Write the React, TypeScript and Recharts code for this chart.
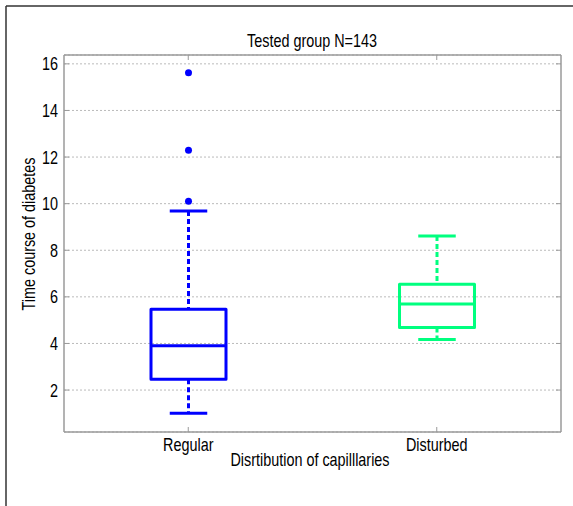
import React from 'react';
import { ComposedChart, Bar, XAxis, YAxis, CartesianGrid } from 'recharts';

// box statistics
const categories = ['Regular', 'Disturbed'];
const lowerWhisker = [1.0, 4.17];
const lowerQuartile = [2.46, 4.69];
const medians = [3.9, 5.69];
const upperQuartile = [5.47, 6.54];
const upperWhisker = [9.69, 8.61];
const outliers = [[10.1, 12.29, 15.62], []];
const boxColors = ['#0000ff', '#00ff7f'];
const yTicks = [2, 4, 6, 8, 10, 12, 14, 16];
const yDomain = [0.2, 16.38];

const FONT = "'Liberation Sans', Arial, sans-serif";
const AXIS_GRAY = '#9a9a9a';

const data = categories.map((name, i) => ({
  name,
  box: [lowerQuartile[i], upperQuartile[i]],
  q1: lowerQuartile[i],
  q3: upperQuartile[i],
  med: medians[i],
  lo: lowerWhisker[i],
  hi: upperWhisker[i],
  out: outliers[i],
  color: boxColors[i],
}));

// condensed look: regular sans squeezed horizontally
const Narrow = ({ x, y, anchor = 'middle', dy, rotate = 0, children }: any) => (
  <g transform={`translate(${x} ${y}) rotate(${rotate}) scale(0.8 1)`}>
    <text x={0} y={0} dy={dy} textAnchor={anchor} fontSize={18} fill="#000" fontFamily={FONT}>
      {children}
    </text>
  </g>
);

// the bar gives the q1..q3 pixels, everything else is scaled from it
const BoxShape = (props: any) => {
  const { x, y, width, height, payload } = props;
  const top = Math.min(y, y + height);
  const h = Math.abs(height);
  const k = h / (payload.q3 - payload.q1);
  const py = (v: number) => top + (payload.q3 - v) * k;
  const cx = x + width / 2;
  const cap = width / 4;
  const c = payload.color;
  return (
    <g stroke={c} strokeWidth={3} fill="none" strokeLinejoin="round">
      <line x1={cx} x2={cx} y1={py(payload.hi)} y2={top} strokeDasharray="5 3" />
      <line x1={cx} x2={cx} y1={top + h} y2={py(payload.lo)} strokeDasharray="5 3" />
      <line x1={cx - cap} x2={cx + cap} y1={py(payload.hi)} y2={py(payload.hi)} />
      <line x1={cx - cap} x2={cx + cap} y1={py(payload.lo)} y2={py(payload.lo)} />
      <rect x={x} y={top} width={width} height={h} />
      <line x1={x} x2={x + width} y1={py(payload.med)} y2={py(payload.med)} />
      {payload.out.map((v: number, i: number) => (
        <circle key={i} cx={cx} cy={py(v)} r={3.5} fill={c} stroke="none" />
      ))}
    </g>
  );
};

const LeftTick = ({ x, y, payload }: any) => (
  <g>
    <line x1={x + 6} x2={x + 11} y1={y} y2={y} stroke={AXIS_GRAY} />
    <Narrow x={x} y={y} dy="0.36em" anchor="end">{payload.value}</Narrow>
  </g>
);

const RightTick = ({ x, y }: any) => <line x1={x} x2={x - 5} y1={y} y2={y} stroke={AXIS_GRAY} />;

const BottomTick = ({ x, y, payload }: any) => (
  <g>
    <line x1={x} x2={x} y1={y - 6} y2={y - 11} stroke={AXIS_GRAY} />
    <Narrow x={x} y={y} dy="0.72em">{payload.value}</Narrow>
  </g>
);

const TopTick = ({ x, y }: any) => <line x1={x} x2={x} y1={y} y2={y + 5} stroke={AXIS_GRAY} />;

const axisLine = { stroke: AXIS_GRAY, strokeWidth: 1.5 };

export default function App() {
  return (
    <div style={{ position: 'absolute', left: 0, top: 0, width: 573, height: 506, background: '#fff' }}>
      <ComposedChart
        width={573}
        height={506}
        data={data}
        margin={{ top: 45, right: 6, bottom: 34, left: 10 }}
      >
        <CartesianGrid
          xAxisId="b"
          yAxisId="l"
          vertical={false}
          stroke="#bbbbbb"
          strokeDasharray="2 2"
        />
        <XAxis
          xAxisId="b"
          dataKey="name"
          height={40}
          axisLine={axisLine}
          tickLine={false}
          tickSize={0}
          tickMargin={6}
          tick={<BottomTick />}
        />
        <XAxis
          xAxisId="t"
          dataKey="name"
          orientation="top"
          height={10}
          axisLine={axisLine}
          tickLine={false}
          tickSize={0}
          tickMargin={0}
          tick={<TopTick />}
        />
        <YAxis
          yAxisId="l"
          type="number"
          domain={yDomain}
          ticks={yTicks}
          allowDataOverflow
          width={54}
          axisLine={axisLine}
          tickLine={false}
          tickSize={0}
          tickMargin={6}
          tick={<LeftTick />}
        />
        <YAxis
          yAxisId="r"
          orientation="right"
          type="number"
          domain={yDomain}
          ticks={yTicks}
          allowDataOverflow
          width={6}
          axisLine={axisLine}
          tickLine={false}
          tickSize={0}
          tickMargin={0}
          tick={<RightTick />}
        />
        <Bar
          xAxisId="b"
          yAxisId="l"
          dataKey="box"
          barSize={75}
          shape={<BoxShape />}
          isAnimationActive={false}
        />
      </ComposedChart>
      <svg
        width={573}
        height={506}
        style={{ position: 'absolute', left: 0, top: 0, pointerEvents: 'none' }}
      >
        <line x1={6} x2={573} y1={6} y2={6} stroke="#333" strokeWidth={1.5} />
        <line x1={6} x2={6} y1={6} y2={506} stroke="#333" strokeWidth={1.5} />
        <Narrow x={312} y={47}>Tested group N=143</Narrow>
        <Narrow x={310} y={466}>Disrtibution of capilllaries</Narrow>
        <Narrow x={35} y={234} rotate={-90}>Time course of diabetes</Narrow>
      </svg>
    </div>
  );
}
